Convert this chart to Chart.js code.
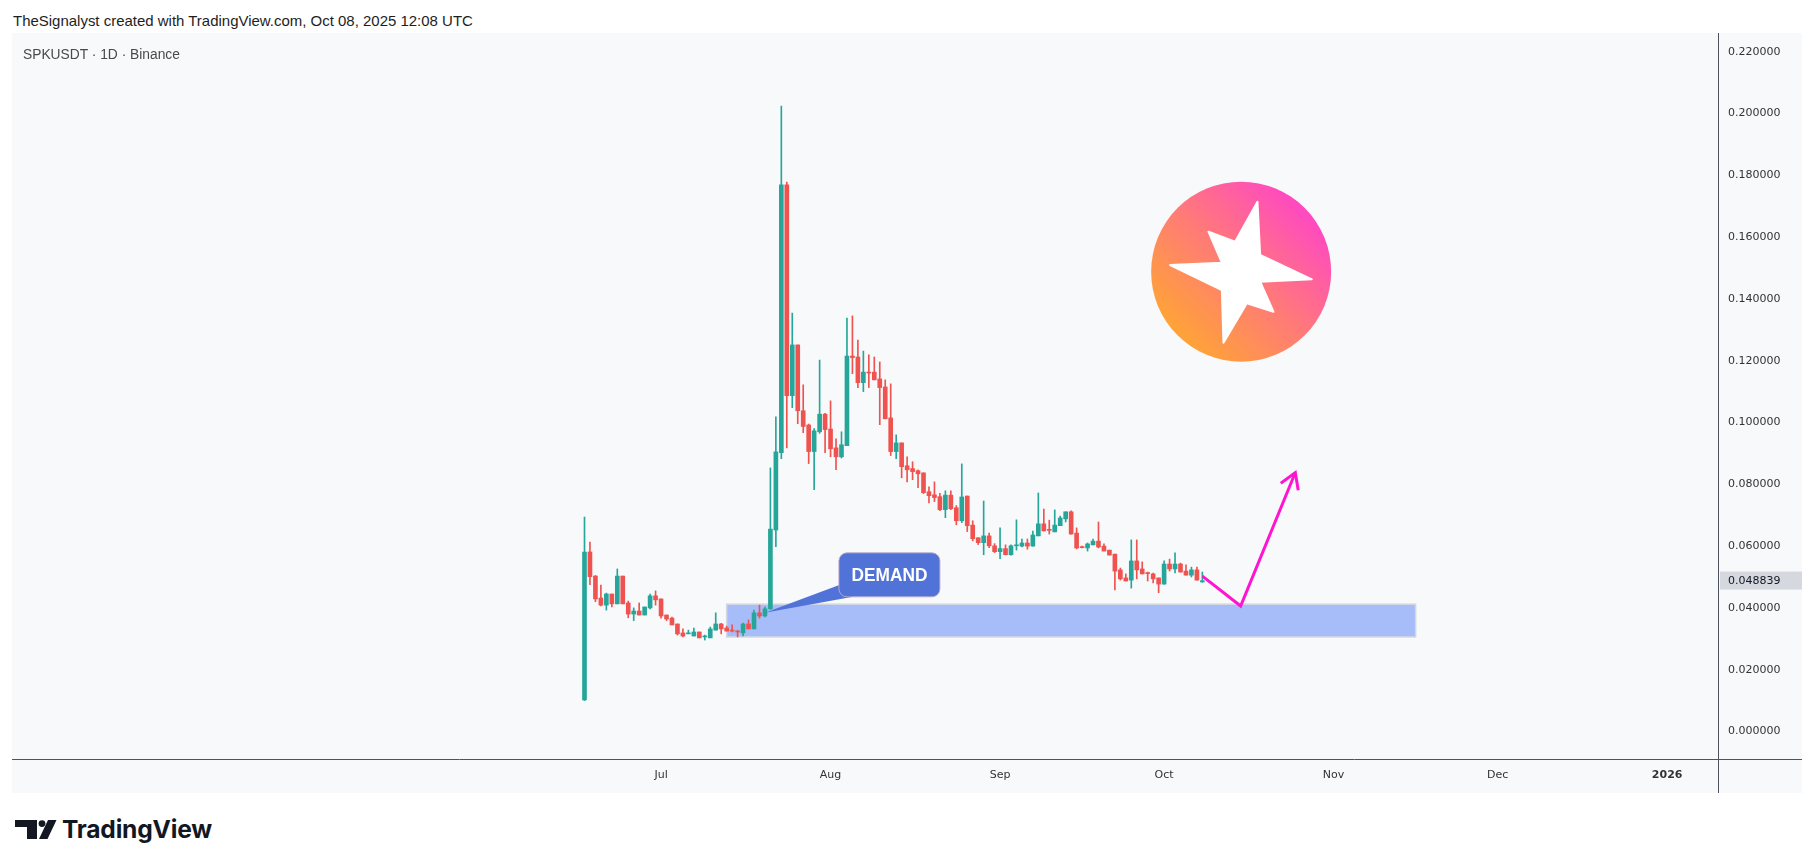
<!DOCTYPE html>
<html><head><meta charset="utf-8">
<script src="https://cdn.jsdelivr.net/npm/chart.js@4.4.1/dist/chart.umd.min.js"></script>
<style>
html,body{margin:0;padding:0;background:#fff;width:1815px;height:868px;overflow:hidden;font-family:"Liberation Sans",Arial,sans-serif;}
#hdr{position:absolute;left:13px;top:12px;font-size:15px;line-height:18px;color:#1e1e1e;white-space:nowrap}
#frame{position:absolute;left:12px;top:33px;width:1790px;height:760px;background:#f8f9fb;}
#frame canvas{position:absolute;left:0;top:0}
#sym{position:absolute;left:11px;top:13px;font-size:14px;line-height:18px;color:#4a4a4a;white-space:nowrap;z-index:2}
#tvlogo{position:absolute;left:15px;top:820px}
#tvtext{position:absolute;left:62px;top:814px;font-family:Inter,"Liberation Sans",sans-serif;font-weight:700;font-size:25px;line-height:30px;color:#131722;white-space:nowrap;letter-spacing:-0.2px}
</style></head>
<body>
<div id="hdr">TheSignalyst created with TradingView.com, Oct 08, 2025 12:08 UTC</div>
<div id="frame">
  <canvas id="c" width="1790" height="760"></canvas>
  <div id="sym">SPKUSDT · 1D · Binance</div>
</div>
<svg id="tvlogo" width="42" height="20" viewBox="0 0 42 20">
  <path d="M0 0H22V19H12V7H0Z" fill="#131722"/>
  <circle cx="27" cy="3.6" r="3.4" fill="#131722"/>
  <path d="M33 0H41.5L32.5 19H24Z" fill="#131722"/>
</svg>
<div id="tvtext">TradingView</div>
<script>
// ---- data (SPKUSDT daily, from 2025-06-17) ----
const firstDate = '2025-06-17';
const open  = [0.0102,0.0581,0.0503,0.0432,0.0409,0.0445,0.0413,0.0503,0.0416,0.0380,0.0390,0.0377,0.0400,0.0439,0.0429,0.0377,0.0367,0.0348,0.0319,0.0316,0.0309,0.0322,0.0306,0.0303,0.0328,0.0348,0.0335,0.0328,0.0325,0.0319,0.0348,0.0332,0.0384,0.0374,0.0397,0.0652,0.0902,0.1769,0.1087,0.1251,0.1038,0.0992,0.0906,0.0970,0.1027,0.0979,0.0918,0.0889,0.0925,0.1215,0.1212,0.1129,0.1163,0.1163,0.1141,0.1115,0.1015,0.0906,0.0934,0.0860,0.0851,0.0844,0.0837,0.0776,0.0766,0.0760,0.0718,0.0765,0.0724,0.0682,0.0762,0.0668,0.0627,0.0611,0.0633,0.0601,0.0582,0.0592,0.0572,0.0601,0.0600,0.0610,0.0600,0.0633,0.0672,0.0652,0.0646,0.0666,0.0688,0.0711,0.0642,0.0596,0.0594,0.0604,0.0616,0.0600,0.0587,0.0574,0.0523,0.0497,0.0490,0.0552,0.0526,0.0512,0.0510,0.0497,0.0477,0.0542,0.0526,0.0542,0.0519,0.0506,0.0523,0.0484];
const high  = [0.0694,0.0613,0.0505,0.0474,0.0448,0.0445,0.0526,0.0503,0.0422,0.0400,0.0416,0.0403,0.0445,0.0455,0.0429,0.0377,0.0370,0.0348,0.0332,0.0328,0.0335,0.0322,0.0312,0.0338,0.0384,0.0350,0.0341,0.0345,0.0328,0.0351,0.0361,0.0393,0.0409,0.0403,0.0853,0.1018,0.2024,0.1778,0.1354,0.1251,0.1122,0.0995,0.0980,0.1202,0.1030,0.1070,0.0947,0.0970,0.1338,0.1345,0.1267,0.1231,0.1219,0.1212,0.1196,0.1138,0.1125,0.0960,0.0934,0.0889,0.0873,0.0847,0.0837,0.0792,0.0808,0.0771,0.0779,0.0779,0.0731,0.0866,0.0762,0.0682,0.0627,0.0746,0.0642,0.0608,0.0659,0.0604,0.0604,0.0685,0.0623,0.0623,0.0649,0.0772,0.0720,0.0684,0.0717,0.0697,0.0711,0.0714,0.0659,0.0600,0.0610,0.0623,0.0678,0.0607,0.0587,0.0574,0.0529,0.0510,0.0620,0.0620,0.0549,0.0516,0.0513,0.0497,0.0552,0.0558,0.0578,0.0545,0.0539,0.0532,0.0532,0.0516];
const low   = [0.0100,0.0475,0.0420,0.0406,0.0393,0.0403,0.0413,0.0413,0.0368,0.0359,0.0377,0.0377,0.0397,0.0409,0.0367,0.0359,0.0345,0.0312,0.0306,0.0316,0.0309,0.0303,0.0296,0.0303,0.0328,0.0316,0.0325,0.0322,0.0306,0.0309,0.0332,0.0332,0.0367,0.0371,0.0395,0.0598,0.0883,0.0918,0.1048,0.0996,0.0967,0.0867,0.0783,0.0965,0.0902,0.0889,0.0847,0.0885,0.0925,0.1158,0.1113,0.1100,0.1113,0.1138,0.0993,0.1012,0.0893,0.0883,0.0821,0.0808,0.0815,0.0789,0.0770,0.0740,0.0744,0.0715,0.0692,0.0718,0.0669,0.0676,0.0647,0.0617,0.0605,0.0572,0.0595,0.0579,0.0559,0.0572,0.0571,0.0587,0.0597,0.0590,0.0600,0.0633,0.0649,0.0639,0.0646,0.0666,0.0678,0.0639,0.0591,0.0594,0.0584,0.0604,0.0594,0.0584,0.0571,0.0458,0.0490,0.0487,0.0464,0.0494,0.0510,0.0487,0.0481,0.0449,0.0477,0.0519,0.0513,0.0516,0.0506,0.0500,0.0490,0.0483];
const close = [0.0581,0.0501,0.0429,0.0409,0.0445,0.0413,0.0503,0.0413,0.0380,0.0390,0.0377,0.0403,0.0439,0.0426,0.0374,0.0364,0.0345,0.0316,0.0309,0.0319,0.0322,0.0303,0.0309,0.0332,0.0348,0.0332,0.0325,0.0325,0.0322,0.0348,0.0332,0.0384,0.0374,0.0397,0.0655,0.0905,0.1769,0.1087,0.1251,0.1038,0.0987,0.0906,0.0973,0.1027,0.0977,0.0915,0.0889,0.0928,0.1215,0.1210,0.1129,0.1163,0.1160,0.1138,0.1113,0.1012,0.0906,0.0934,0.0857,0.0847,0.0841,0.0834,0.0773,0.0763,0.0757,0.0718,0.0765,0.0721,0.0682,0.0759,0.0666,0.0624,0.0611,0.0633,0.0601,0.0582,0.0592,0.0572,0.0601,0.0604,0.0610,0.0600,0.0636,0.0672,0.0649,0.0651,0.0668,0.0691,0.0711,0.0639,0.0594,0.0595,0.0607,0.0616,0.0597,0.0584,0.0571,0.0519,0.0494,0.0487,0.0552,0.0523,0.0510,0.0511,0.0494,0.0477,0.0542,0.0526,0.0542,0.0516,0.0506,0.0523,0.0490,0.0488];
const lastPrice = 0.048839;
const yTicks = [0, 0.02, 0.04, 0.06, 0.08, 0.10, 0.12, 0.14, 0.16, 0.18, 0.20, 0.22];
const xTickDates  = ['2025-07-01','2025-08-01','2025-09-01','2025-10-01','2025-11-01','2025-12-01','2026-01-01'];
const xTickLabels = ['Jul','Aug','Sep','Oct','Nov','Dec','2026'];
// annotations (date, price)
const demandZone = {from:'2025-07-13', to:'2025-11-16', top:0.0412, bottom:0.0306};
const demandTip = {date:'2025-07-20', price:0.0384};
const arrowPath = [['2025-10-08',0.0503],['2025-10-15',0.0406],['2025-10-25',0.0838]];
const logoAt = {date:'2025-10-15', price:0.1488};

// ---- helpers ----
const DAY = 86400000, ORIGIN = Date.UTC(2025,6,1);
const toDay = s => (Date.parse(s + 'T00:00:00Z') - ORIGIN) / DAY;
const start = toDay(firstDate);
const days = open.map((_, i) => start + i);
const GREEN = '#26a69a', RED = '#ef5350';
const colors = open.map((o, i) => close[i] >= o ? GREEN : RED);

function fitWidth(el, target){
  const w = el.getBoundingClientRect().width;
  const fs = parseFloat(getComputedStyle(el).fontSize);
  el.style.fontSize = (fs * target / w) + 'px';
}
fitWidth(document.getElementById('hdr'), 460);
fitWidth(document.getElementById('sym'), 157);
fitWidth(document.getElementById('tvtext'), 150);

const overlay = {
  id: 'overlay',
  beforeDatasetsDraw(chart){
    const {ctx, scales:{x, y}} = chart;
    const x0 = x.getPixelForValue(toDay(demandZone.from)), x1 = x.getPixelForValue(toDay(demandZone.to));
    const y0 = y.getPixelForValue(demandZone.top), y1 = y.getPixelForValue(demandZone.bottom);
    ctx.save();
    ctx.fillStyle = '#a7bdfa';
    ctx.fillRect(x0, y0, x1 - x0, y1 - y0);
    ctx.strokeStyle = '#d4d7df'; ctx.lineWidth = 1.5;
    ctx.strokeRect(x0, y0, x1 - x0, y1 - y0);
    ctx.restore();
  },
  afterDatasetsDraw(chart){
    const {ctx, chartArea, scales:{x, y}} = chart;
    ctx.save();
    // logo
    const cx = x.getPixelForValue(toDay(logoAt.date)) + 0.5, cy = y.getPixelForValue(logoAt.price);
    const r = 90;
    const g = ctx.createLinearGradient(cx - r*0.75, cy + r*0.75, cx + r*0.75, cy - r*0.75);
    g.addColorStop(0, '#ffa632'); g.addColorStop(0.5, '#ff7a78'); g.addColorStop(1, '#ff46c6');
    ctx.fillStyle = g;
    ctx.beginPath(); ctx.arc(cx, cy, r, 0, Math.PI*2); ctx.fill();
    const star = [[16.3,-70],[-6,-30],[-32.7,-40],[-19.3,-9],[-71,-6.7],[-19.3,18.3],[-17.7,71],[5.7,31.6],[32.3,40],[19,10],[70.7,7.6],[19,-16.7]];
    ctx.fillStyle = '#ffffff';
    ctx.lineJoin = 'round'; ctx.strokeStyle = '#ffffff'; ctx.lineWidth = 2;
    ctx.beginPath();
    star.forEach((p, i) => i ? ctx.lineTo(cx + p[0], cy + p[1]) : ctx.moveTo(cx + p[0], cy + p[1]));
    ctx.closePath(); ctx.fill(); ctx.stroke();

    // DEMAND callout
    const tx = x.getPixelForValue(toDay(demandTip.date)), ty = y.getPixelForValue(demandTip.price);
    const bx = tx + 74, by = ty - 60, bw = 101, bh = 44, br = 8;
    ctx.fillStyle = '#5173d8';
    ctx.beginPath();
    ctx.moveTo(tx, ty); ctx.lineTo(bx + 1, ty - 28); ctx.lineTo(bx + 14, ty - 16); ctx.closePath(); ctx.fill();
    ctx.beginPath(); ctx.roundRect(bx, by, bw, bh, br); ctx.fill();
    ctx.strokeStyle = 'rgba(190,170,205,0.9)'; ctx.lineWidth = 1;
    ctx.stroke();
    ctx.fillStyle = '#ffffff';
    ctx.font = 'bold 19px "Liberation Sans", Arial, sans-serif';
    ctx.textAlign = 'center'; ctx.textBaseline = 'middle';
    ctx.fillText('DEMAND', bx + bw/2, by + bh/2 + 1, 76);

    // magenta arrow
    const pts = arrowPath.map(p => [x.getPixelForValue(toDay(p[0])), y.getPixelForValue(p[1])]);
    ctx.strokeStyle = '#ff14d2'; ctx.lineWidth = 3; ctx.lineCap = 'butt'; ctx.lineJoin = 'miter';
    ctx.beginPath();
    pts.forEach((p, i) => i ? ctx.lineTo(p[0], p[1]) : ctx.moveTo(p[0], p[1]));
    ctx.stroke();
    const [a, b] = [pts[1], pts[2]];
    const ang = Math.atan2(b[1] - a[1], b[0] - a[0]);
    const L = 18, spread = 0.55;
    ctx.beginPath();
    ctx.moveTo(b[0] - L*Math.cos(ang - spread), b[1] - L*Math.sin(ang - spread));
    ctx.lineTo(b[0], b[1]);
    ctx.lineTo(b[0] - L*Math.cos(ang + spread), b[1] - L*Math.sin(ang + spread));
    ctx.stroke();
    ctx.restore();
  },
  afterDraw(chart){
    const {ctx, chartArea, scales:{y}} = chart;
    ctx.save();
    // axis separators
    ctx.strokeStyle = '#50535e'; ctx.lineWidth = 1;
    ctx.beginPath();
    ctx.moveTo(Math.round(chartArea.right) + 0.5, 0); ctx.lineTo(Math.round(chartArea.right) + 0.5, chart.height);
    ctx.moveTo(0, Math.round(chartArea.bottom) + 0.5); ctx.lineTo(chart.width, Math.round(chartArea.bottom) + 0.5);
    ctx.stroke();
    // last price label
    const py = y.getPixelForValue(lastPrice);
    ctx.fillStyle = '#d5d8df';
    ctx.fillRect(chartArea.right + 2, py - 9, chart.width - chartArea.right - 2, 18);
    ctx.fillStyle = '#131722';
    ctx.font = '11px "DejaVu Sans", sans-serif';
    ctx.textAlign = 'left'; ctx.textBaseline = 'middle';
    ctx.fillText(lastPrice.toFixed(6), chartArea.right + 10, py + 0.5);
    ctx.restore();
  }
};

new Chart(document.getElementById('c'), {
  type: 'bar',
  data: {
    datasets: [
      { label: 'body', data: days.map((d, i) => ({x: d, y: [open[i], close[i]]})),
        backgroundColor: colors, barThickness: 4, minBarLength: 1, grouped: false },
      { label: 'wick', data: days.map((d, i) => ({x: d, y: [low[i], high[i]]})),
        backgroundColor: colors, barThickness: 1, grouped: false }
    ]
  },
  options: {
    responsive: false, animation: false,
    layout: {padding: 0},
    plugins: {legend: {display: false}, tooltip: {enabled: false}},
    scales: {
      x: {
        type: 'linear', min: -118.7, max: 193.3, offset: false, bounds: 'data',
        grid: {display: false, drawTicks: false}, border: {display: false},
        afterBuildTicks: s => { s.ticks = xTickDates.map(d => ({value: toDay(d)})); },
        ticks: {
          autoSkip: false, maxRotation: 0, padding: 10, color: '#333',
          font: c => ({family: '"DejaVu Sans", sans-serif', size: 11, weight: c.index === 6 ? 'bold' : 'normal'}),
          callback: (v, i) => xTickLabels[i]
        },
        afterFit: s => { s.height = 34; s.paddingLeft = 0; s.paddingRight = 0; }
      },
      y: {
        position: 'right', min: -0.0089, max: 0.22605, bounds: 'data', stacked: false,
        grid: {display: false, drawTicks: false}, border: {display: false},
        afterBuildTicks: s => { s.ticks = yTicks.map(v => ({value: v})); },
        ticks: {padding: 10, color: '#333', font: {family: '"DejaVu Sans", sans-serif', size: 11},
                callback: v => Number(v).toFixed(6)},
        afterFit: s => { s.width = 84; s.paddingTop = 0; s.paddingBottom = 0; }
      }
    }
  },
  plugins: [overlay]
});
</script>
</body></html>
